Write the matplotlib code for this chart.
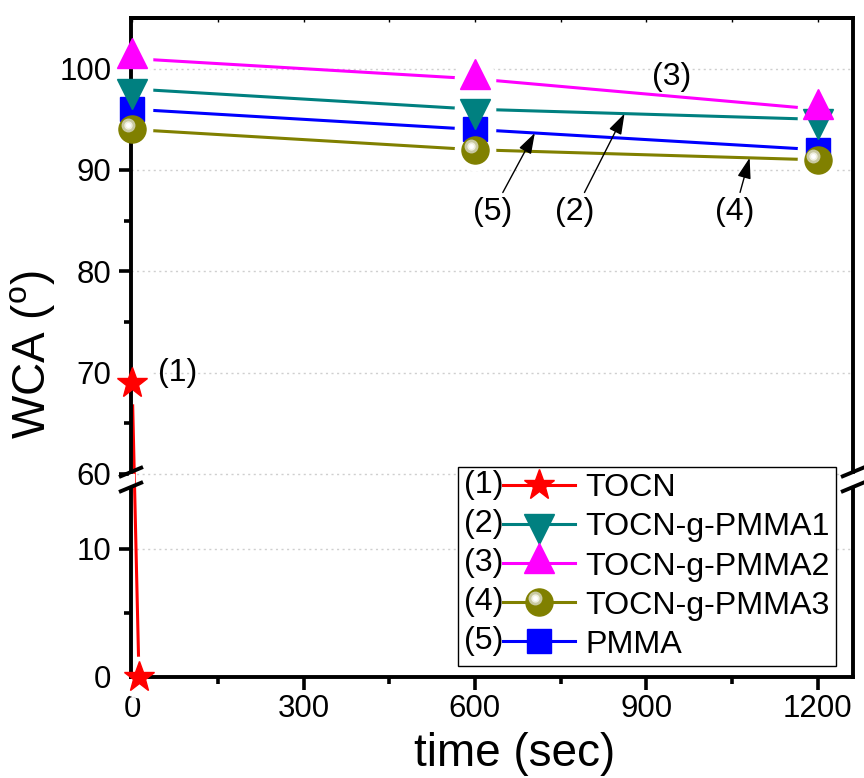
import numpy as np
import matplotlib.pyplot as plt
from matplotlib.legend_handler import HandlerBase
from matplotlib.lines import Line2D
from matplotlib.text import Text
from matplotlib.transforms import offset_copy

plt.rcParams['font.family'] = ['Liberation Sans', 'DejaVu Sans']
plt.rcParams['mathtext.fontset'] = 'custom'
plt.rcParams['mathtext.rm'] = 'Liberation Sans'

# Data (WCA in degrees vs time in seconds)
# ----------------------------------------
time = [0, 600, 1200]
tocn_time = [0, 12]
tocn = [69, 0]
pmma1 = [98, 96, 95]
pmma2 = [101, 99, 96]
pmma3 = [94, 92, 91]
pmma = [96, 94, 92]

tags = ['(1)', '(2)', '(3)', '(4)', '(5)']
labels = ['TOCN', 'TOCN-g-PMMA1', 'TOCN-g-PMMA2', 'TOCN-g-PMMA3', 'PMMA']
xs = [tocn_time, time, time, time, time]
ys = [tocn, pmma1, pmma2, pmma3, pmma]
colors = ['#ff0000', '#008080', '#ff00ff', '#808000', '#0000ff']
markers = ['*', 'v', '^', 'o', 's']
sizes = [23, 22, 22, 19.5, 17]
zorders = [3.4, 3.2, 3.3, 3.1, 3.0]

major_yticks = [0, 10, 60, 70, 80, 90, 100]
minor_yticks = [5, 65, 75, 85, 95]


# Broken y axis: 0-15 and 60-105, drawn on one axis through a piecewise scale.
def fwd(y):
    y = np.asarray(y, float)
    return np.where(y <= 15, y * 12.8,
                    np.where(y >= 60, 203 + (y - 60) * 10.13,
                             192 + (y - 15) * 11 / 45))


def inv(v):
    v = np.asarray(v, float)
    return np.where(v <= 192, v / 12.8,
                    np.where(v >= 203, 60 + (v - 203) / 10.13,
                             15 + (v - 192) * 45 / 11))


def centroid_shift(marker, ms):
    # Origin centres triangles on their centroid, not on their bounding box
    return {'^': ms / 6, 'v': -ms / 6}.get(marker, 0)


# Legend handle with the "(n)" tag in front of the line + marker.
class TaggedHandler(HandlerBase):
    def __init__(self, tag, sphere=False):
        super().__init__()
        self.tag = tag
        self.sphere = sphere

    def create_artists(self, legend, orig_handle, xdescent, ydescent,
                       width, height, fontsize, trans):
        x0 = -xdescent
        yc = height / 2 - ydescent
        tag_w = 1.2 * fontsize
        txt = Text(x0, yc, self.tag, fontsize=fontsize, ha='left', va='center',
                   transform=trans)
        line = Line2D([x0 + tag_w, x0 + width], [yc, yc],
                      color=orig_handle.get_color(), lw=2.2, transform=trans)
        xm = x0 + tag_w + (width - tag_w) / 2
        mkr = orig_handle.get_marker()
        ms = orig_handle.get_markersize()
        mk = Line2D([xm], [yc + centroid_shift(mkr, ms)], ls='none', marker=mkr,
                    ms=ms, color=orig_handle.get_color(),
                    mec=orig_handle.get_color(), transform=trans)
        arts = [txt, line, mk]
        if self.sphere:
            for s, c in [(9, '#c9c9a2'), (5, '#f0f0e0'), (2.5, 'white')]:
                arts.append(Line2D([xm - 3], [yc + 3], ls='none', marker='o', ms=s,
                                   color=c, mec=c, transform=trans))
        return arts


fig = plt.figure(figsize=(8.64, 7.78), dpi=100)
ax = fig.add_axes([131 / 864, 1 - 677 / 778, 722 / 864, 659 / 778])
ax.set_yscale('function', functions=(fwd, inv))
ax.set_ylim(0, 105)
ax.set_xlim(-2, 1262)

handles = []
handler_map = {}
for i in range(5):
    # connecting line, gaps around the markers come from white discs
    ax.plot(xs[i], ys[i], color=colors[i], lw=2.2, zorder=2.1)
    ax.plot(xs[i], ys[i], ls='none', marker='o', ms=29, color='white',
            mec='white', zorder=2.2, clip_on=False)
    shifted = offset_copy(ax.transData, fig=fig, x=0,
                          y=centroid_shift(markers[i], sizes[i]), units='points')
    h, = ax.plot(xs[i], ys[i], ls='none', marker=markers[i], ms=sizes[i],
                 color=colors[i], mec=colors[i], zorder=zorders[i],
                 clip_on=False, label=labels[i], transform=shifted)
    handles.append(h)
    handler_map[h] = TaggedHandler(tags[i], sphere=(markers[i] == 'o'))

# sphere highlight on the olive markers
hl = offset_copy(ax.transData, fig=fig, x=-3, y=3, units='points')
for s, c in [(9, '#c9c9a2'), (5, '#f0f0e0'), (2.5, 'white')]:
    ax.plot(time, pmma3, ls='none', marker='o', ms=s, color=c, mec=c,
            transform=hl, zorder=3.15, clip_on=False)

# Axes styling
for sp in ax.spines.values():
    sp.set_linewidth(2.8)
ax.set_xticks([0, 300, 600, 900, 1200])
ax.set_xticks([150, 450, 750, 1050], minor=True)
ax.set_yticks(major_yticks)
ax.set_yticks(minor_yticks, minor=True)
ax.set_yticklabels([str(t) for t in major_yticks])
ax.tick_params(which='major', direction='out', length=9, width=2.6,
               labelsize=22.5, pad=3)
ax.tick_params(which='minor', direction='out', length=5, width=2.6)
ax.tick_params(axis='y', which='major', pad=5)
ax.grid(axis='y', which='major', ls=(0, (1.5, 2.5)), color='#cfcfcf', lw=1)

sec = ax.secondary_xaxis('top')
sec.set_xticks([0, 150, 300, 450, 600, 750, 900, 1050, 1200])
sec.tick_params(direction='in', length=3, width=1, labeltop=False)
sec.spines['top'].set_linewidth(2.8)

ax.set_xlabel('time (sec)', fontsize=33)
ax.xaxis.set_label_coords(0.532, -0.083)
ax.set_ylabel(r'WCA ($^{\mathrm{o}}$)', fontsize=33)
ax.yaxis.set_label_coords(-0.103, 0.49)

# Axis break marks
c = 197.5 / 659
px, py = 1 / 722, 1 / 659
for xa in (0, 1):
    ax.fill([xa - 2.5 * px, xa + 2.5 * px, xa + 2.5 * px, xa - 2.5 * px],
            [c - 5.5 * py, c - 5.5 * py, c + 5.5 * py, c + 5.5 * py],
            color='white', transform=ax.transAxes, clip_on=False, zorder=4)
    for dy in (7.5, -7.5):
        ax.plot([xa - 12 * px, xa + 12 * px],
                [c + (dy - 5) * py, c + (dy + 5) * py],
                color='black', lw=2.8, transform=ax.transAxes, clip_on=False,
                zorder=4.1, solid_capstyle='butt')

# Curve labels
ax.text(79, 70, '(1)', fontsize=23, ha='center', va='center')
ax.text(945, 99.2, '(3)', fontsize=23, ha='center', va='center')
arrow = dict(arrowstyle='-|>,head_length=0.55,head_width=0.18', color='black',
             lw=1, shrinkA=1, shrinkB=0)
for tag, tx, lx, series in [('(5)', 631, 705, pmma), ('(2)', 775, 862, pmma1),
                            ('(4)', 1055, 1081, pmma3)]:
    ax.annotate(tag, xy=(lx, np.interp(lx, time, series)), xytext=(tx, 85.9),
                fontsize=23, ha='center', va='center', arrowprops=arrow)

leg = ax.legend(handles=handles, handler_map=handler_map, loc='lower right',
                bbox_to_anchor=(0.9765, 0.0167), borderaxespad=0, fontsize=23.2,
                handlelength=3.45, handletextpad=0.3, labelspacing=0.28,
                borderpad=0.2, fancybox=False, framealpha=1, edgecolor='black')
leg.get_frame().set_linewidth(1)
leg.set_zorder(5)

plt.savefig('out.png', dpi=100)
